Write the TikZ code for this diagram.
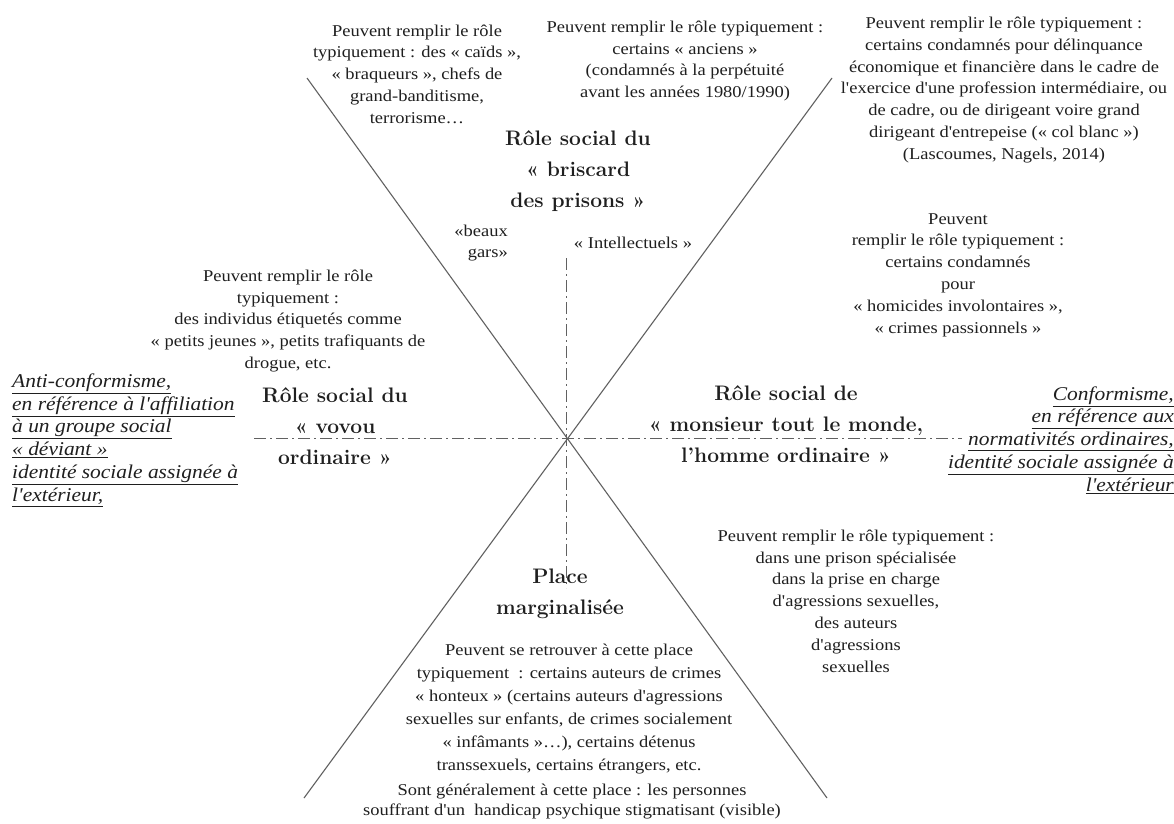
\documentclass[tikz,border=0pt]{standalone}
\usepackage{fontspec}
\newfontfamily\gar{Liberation Serif}[FakeStretch=1.12]
\newfontfamily\garit{Liberation Serif}[FakeStretch=1.1]
\definecolor{ink}{gray}{0.12}
\definecolor{linec}{gray}{0.38}
\tikzset{
  smalltxt/.style={font=\gar\fontsize{16.5}{21.8}\selectfont, align=center, inner sep=0pt, text=ink},
  bigtxt/.style={font=\fontsize{21}{31}\selectfont\bfseries, align=center, inner sep=0pt, text=ink},
  itatxt/.style={font=\garit\itshape\fontsize{19.5}{22.8}\selectfont, inner sep=0pt, text=ink},
  axisline/.style={draw=linec, line width=1.1pt},
  dashaxis/.style={draw=linec, line width=1pt, dash pattern=on 12pt off 4pt on 2pt off 4pt},
}
\begin{document}
\begin{tikzpicture}[x=1pt,y=-1pt]
\useasboundingbox (0,0) rectangle (1174,823);
\fill[white] (0,0) rectangle (1174,823);

% axes
\coordinate (TL) at (307,78);
\coordinate (BR) at (827,798);
\coordinate (TR) at (832,78);
\coordinate (BL) at (304,798);
\coordinate (VT) at (566,258);
\coordinate (VB) at (566,588);
\coordinate (HL) at (254,438);
\coordinate (HR) at (962,438);
\draw[axisline] (TL) -- (BR);
\draw[axisline] (TR) -- (BL);
\draw[dashaxis] (VT) -- (VB);
\draw[dashaxis] (HL) -- (HR);

% top texts
\node[smalltxt] (tl) at (417,74) {Peuvent remplir le rôle\\typiquement : des « caïds »,\\« braqueurs », chefs de\\grand-banditisme,\\terrorisme…};
\node[smalltxt] (tm) at (685,61) {Peuvent remplir le rôle typiquement :\\certains « anciens »\\(condamnés à la perpétuité\\avant les années 1980/1990)};
\node[smalltxt] (tr) at (1004,90) {Peuvent remplir le rôle typiquement :\\certains condamnés pour délinquance\\économique et financière dans le cadre de\\l'exercice d'une profession intermédiaire, ou\\de cadre, ou de dirigeant voire grand\\dirigeant d'entrepeise (« col blanc »)\\(Lascoumes, Nagels, 2014)};

% top bold
\node[bigtxt] (briscard) at (578,171) {Rôle social du\\« briscard\\des prisons »};
\node[smalltxt, align=right, anchor=east] (beaux) at (508,243) {«beaux\\gars»};
\node[smalltxt] (intel) at (633,243) {« Intellectuels »};

% right middle
\node[smalltxt] (rm) at (958,275) {Peuvent\\remplir le rôle typiquement :\\certains condamnés\\pour\\« homicides involontaires »,\\« crimes passionnels »};

% left middle
\node[smalltxt] (lm) at (288,321) {Peuvent remplir le rôle\\typiquement :\\des individus étiquetés comme\\« petits jeunes », petits trafiquants de\\drogue, etc.};

% side bold
\node[bigtxt] (vovou) at (335,426) {Rôle social du\\« vovou\\ordinaire »};
\node[bigtxt] (monsieur) at (786,424) {Rôle social de\\« monsieur tout le monde,\\l'homme ordinaire »};

% italic side texts
\node[itatxt, align=left, anchor=west] (anti) at (12,440) {\underline{Anti-conformisme,}\\\underline{en référence à l'affiliation}\\\underline{à un groupe social}\\\underline{« déviant »}\\\underline{identité sociale assignée à}\\\underline{l'extérieur,}};
\node[itatxt, align=right, anchor=east] (conf) at (1174,440) {\underline{Conformisme,}\\\underline{en référence aux}\\\underline{normativités ordinaires,}\\\underline{identité sociale assignée à}\\\underline{l'extérieur}};

% bottom right
\node[smalltxt] (br) at (856,601) {Peuvent remplir le rôle typiquement :\\dans une prison spécialisée\\dans la prise en charge\\d'agressions sexuelles,\\des auteurs\\d'agressions\\sexuelles};

% bottom
\node[bigtxt] (place) at (560,594) {Place\\marginalisée};
\node[smalltxt, font=\gar\fontsize{16.5}{23}\selectfont] (bm) at (569,709) {Peuvent se retrouver à cette place\\typiquement~ : certains auteurs de crimes\\« honteux » (certains auteurs d'agressions\\sexuelles sur enfants, de crimes socialement\\« infâmants »…), certains détenus\\transsexuels, certains étrangers, etc.};
\node[smalltxt, font=\gar\fontsize{16.5}{20}\selectfont] (bb) at (572,802) {Sont généralement à cette place : les personnes\\souffrant d'un~ handicap psychique stigmatisant (visible)};
\end{tikzpicture}
\end{document}
